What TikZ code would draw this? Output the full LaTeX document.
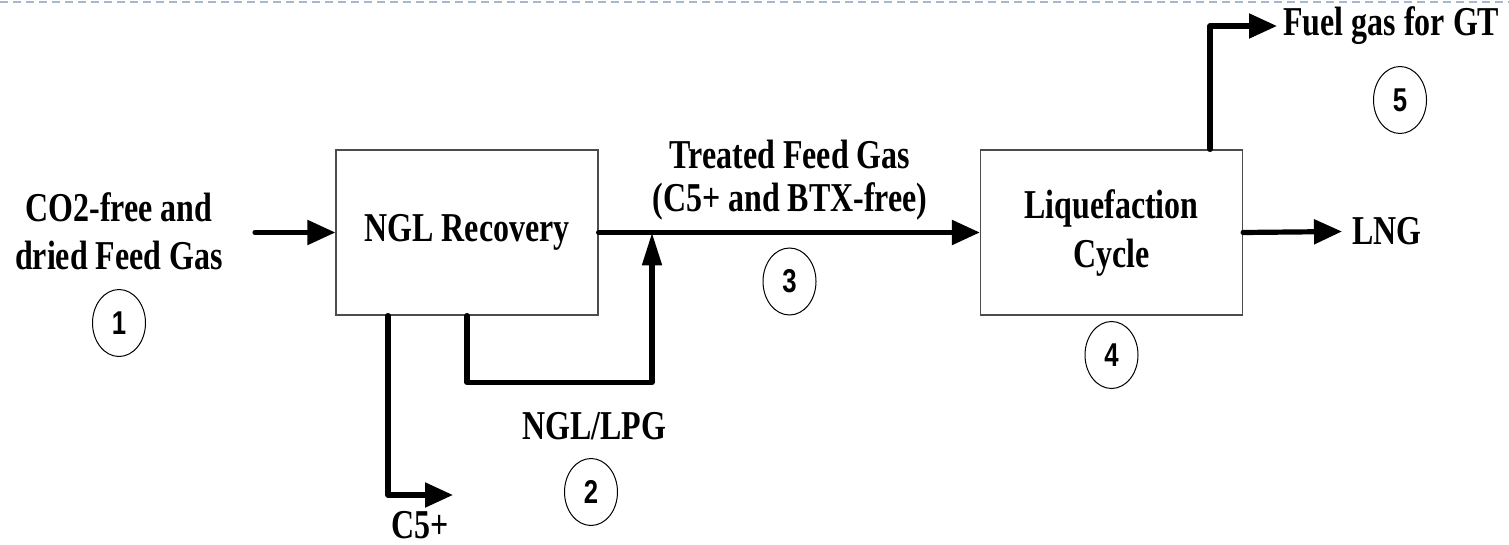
\documentclass[tikz,border=0pt]{standalone}
\usepackage{fontspec}
\setmainfont{Liberation Serif}[FakeStretch=0.78]
\newfontfamily\tagfont{Liberation Sans}[FakeStretch=0.78]
\usepackage{xcolor}
\usepackage{tikz}
\usetikzlibrary{arrows.meta,shapes.geometric}
\definecolor{dashblue}{HTML}{A3B9CF}

\begin{document}
\begin{tikzpicture}[
  x=0.5pt, y=-0.5pt,
  font=\fontsize{20.5}{24.5}\selectfont\bfseries,
  unit/.style={draw=black!70, line width=0.6pt, minimum width=131pt, minimum height=82.5pt, align=center, inner sep=0pt},
  lab/.style={align=center, inner sep=0pt},
  tag/.style={ellipse, draw, line width=0.5pt, minimum width=26.5pt, minimum height=33.5pt, inner sep=0pt, font=\tagfont\fontsize{16.5}{16.5}\selectfont\bfseries},
  flow/.style={line width=2.6pt, line cap=round, line join=round, -{Triangle[length=14pt,width=12pt]}},
  vflow/.style={flow, -{Triangle[length=16.5pt,width=9.5pt]}},
  frameline/.style={draw=dashblue, line width=1pt, dash pattern=on 4pt off 2.5pt},
]
\useasboundingbox (0,0) rectangle (1509,545);
\draw[frameline] (0,2) -- (1509,2);

% units
\node[unit] (ngl) at (467,232.5) {NGL Recovery};
\node[unit, font=\fontsize{20.5}{24.5}\selectfont\bfseries] (liq) at (1111.5,232.5) {Liquefaction\\Cycle};

% stream labels
\node[lab, font=\fontsize{20.5}{24}\selectfont\bfseries] (feed) at (119,231) {CO2-free and\\dried Feed Gas};
\node[lab, font=\fontsize{20.5}{21.5}\selectfont\bfseries] (treated) at (790,180) {Treated Feed Gas\\(C5+ and BTX-free)};
\node[lab] (nglpg) at (594,426) {NGL/LPG};
\node[lab] (c5) at (420,525) {C5+};
\node[lab, anchor=west, inner xsep=3pt] (fuel) at (1277,26) {Fuel gas for GT};
\node[lab, anchor=west, inner xsep=5pt] (lng) at (1342,231.5) {LNG};

% stream numbers
\node[tag] (s1) at (119,323) {1};
\node[tag] (s2) at (591,492) {2};
\node[tag] (s3) at (789.5,281.5) {3};
\node[tag] (s4) at (1111.5,355) {4};
\node[tag] (s5) at (1400,100) {5};

\coordinate (feedin) at (255,232.5);
\coordinate (mix) at (652,232.5);
\coordinate (c5tip) at (453,495);

% streams
\draw[flow] (feedin) -- (ngl.west);
\draw[flow] (ngl.east) -- (liq.west);
\draw[flow] ([xshift=-39.5pt]ngl.south) |- (c5tip);
\draw[vflow] (ngl.south) -- ++(0,67) -| (mix);
\draw[flow] (liq.east) -- (lng.west);
\draw[flow] ([xshift=49.25pt]liq.north) |- (fuel.west);
\end{tikzpicture}
\end{document}
